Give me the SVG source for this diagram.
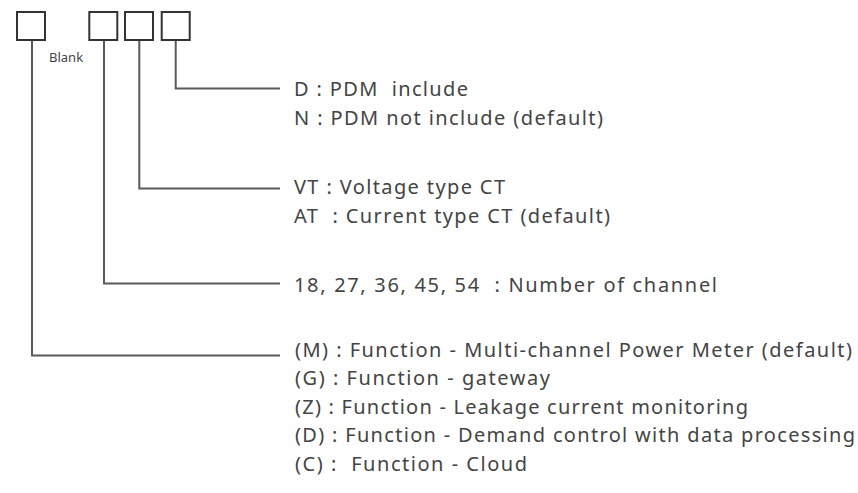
<svg xmlns="http://www.w3.org/2000/svg" width="858" height="493" viewBox="0 0 858 493" xml:space="preserve">
<style>
.box{fill:none;stroke:#333;stroke-width:2}
.ln{fill:none;stroke:#595959;stroke-width:2}
.t{font-family:"Noto Sans","Open Sans",sans-serif;font-size:20px;fill:#444;white-space:pre}
.s{font-family:"Noto Sans","Open Sans",sans-serif;font-size:13px;fill:#444}
</style>
<rect width="858" height="493" fill="#fff"/>
<g id="box1"><rect class="box" x="17" y="12" width="28" height="28"/><text class="s" x="49" y="62">Blank</text></g>
<g id="box2"><rect class="box" x="89.3" y="12" width="28" height="28"/></g>
<g id="box3"><rect class="box" x="125" y="12" width="28" height="28"/></g>
<g id="box4"><rect class="box" x="161.7" y="12" width="28" height="28"/></g>
<g id="connectors">
<polyline class="ln" points="175.7,41 175.7,88.5 280,88.5"/>
<polyline class="ln" points="139.3,41 139.3,188.5 280,188.5"/>
<polyline class="ln" points="104,41 104,283.5 280,283.5"/>
<polyline class="ln" points="32,41 32,355.5 280,355.5"/>
</g>
<g id="label-pdm">
<text class="t" x="294" y="95.5" textLength="174" lengthAdjust="spacing">D : PDM  include</text>
<text class="t" x="294" y="125" textLength="309" lengthAdjust="spacing">N : PDM not include (default)</text>
</g>
<g id="label-ct">
<text class="t" x="294" y="193.5" textLength="211" lengthAdjust="spacing">VT : Voltage type CT</text>
<text class="t" x="294" y="223" textLength="316" lengthAdjust="spacing">AT  : Current type CT (default)</text>
</g>
<g id="label-ch">
<text class="t" x="294" y="291.5" textLength="423" lengthAdjust="spacing">18, 27, 36, 45, 54  : Number of channel</text>
</g>
<g id="label-fn">
<text class="t" x="295" y="356.5" textLength="557" lengthAdjust="spacing">(M) : Function - Multi-channel Power Meter (default)</text>
<text class="t" x="295" y="385" textLength="255" lengthAdjust="spacing">(G) : Function - gateway</text>
<text class="t" x="295" y="413.5" textLength="453" lengthAdjust="spacing">(Z) : Function - Leakage current monitoring</text>
<text class="t" x="295" y="442" textLength="560" lengthAdjust="spacing">(D) : Function - Demand control with data processing</text>
<text class="t" x="295" y="470.5" textLength="232" lengthAdjust="spacing">(C) :  Function - Cloud</text>
</g>
</svg>
